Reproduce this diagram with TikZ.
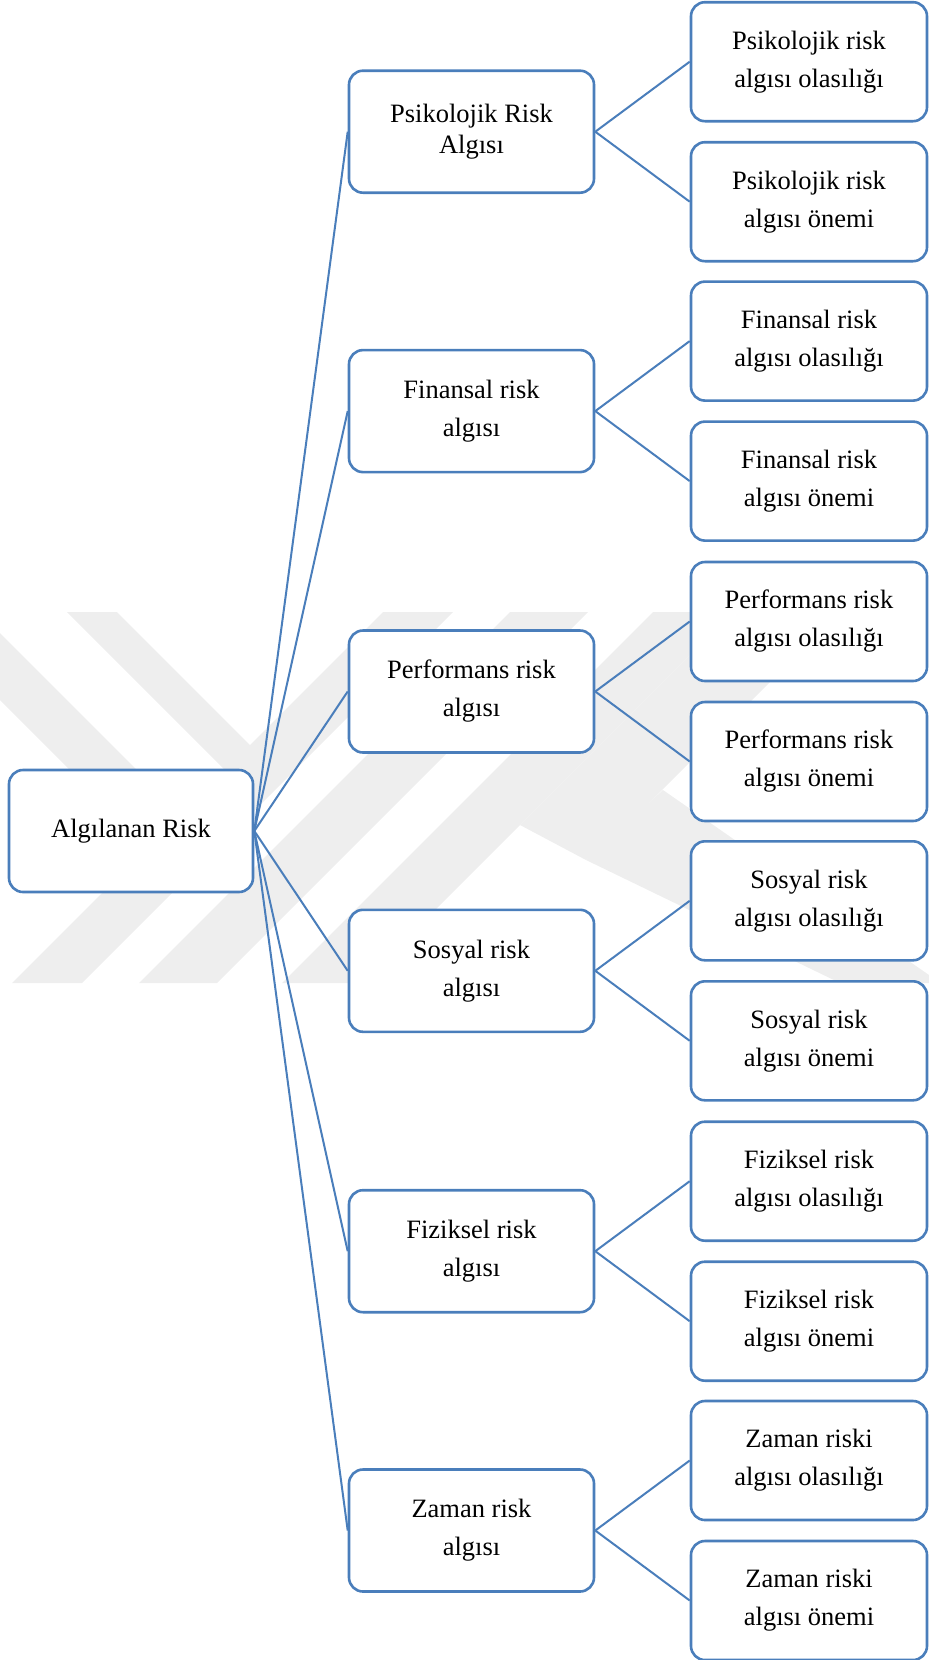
\documentclass[tikz,border=0pt]{standalone}
\usepackage{fontspec}
\setmainfont{Liberation Serif}
\definecolor{boxblue}{RGB}{74,126,187}
\definecolor{wm}{RGB}{238,238,238}
\begin{document}
\begin{tikzpicture}[x=1pt,y=-1pt,
  box/.style={draw=boxblue, line width=2.6pt, rounded corners=14pt, fill=white, align=center, inner sep=0pt, font=\fontsize{26.5}{38}\selectfont},
  rootbox/.style={box, minimum width=244pt, minimum height=122pt},
  midbox/.style={box, minimum width=245pt, minimum height=122pt},
  leafbox/.style={box, minimum width=236pt, minimum height=119pt},
  link/.style={draw=boxblue, line width=2pt}]
\useasboundingbox (0,0) rectangle (929,1660);
% faint watermark
\begin{scope}
\clip (0,612) rectangle (929,983);
\fill[wm] (67,612) -- (117,612) -- (255,750) -- (225,770) -- cycle;
\fill[wm] (0,633) -- (137,770) -- (70,770) -- (0,700) -- cycle;
\fill[wm] (383,612) -- (453,612) -- (82,983) -- (12,983) -- cycle;
\fill[wm] (510,612) -- (588,612) -- (217,983) -- (139,983) -- cycle;
\fill[wm] (653,612) -- (733,612) -- (362,983) -- (282,983) -- cycle;
\fill[wm] (733,612) -- (840,612) -- (620,832) -- (586,860) -- (520,825) -- cycle;
\fill[wm] (586,860) -- (663,790) -- (929,975) -- (929,983) -- (840,983) -- cycle;
\end{scope}
% root
\node[rootbox] (root) at (131,831) {Algılanan Risk};
% middle level
\node[midbox, font=\fontsize{26.5}{30.7}\selectfont] (m1) at (471.5,131.7) {Psikolojik Risk\\Algısı};
\node[midbox] (m2) at (471.5,411.1) {Finansal risk\\algısı};
\node[midbox] (m3) at (471.5,691.5) {Performans risk\\algısı};
\node[midbox] (m4) at (471.5,970.8) {Sosyal risk\\algısı};
\node[midbox] (m5) at (471.5,1251.2) {Fiziksel risk\\algısı};
\node[midbox] (m6) at (471.5,1530.5) {Zaman risk\\algısı};
% leaves
\node[leafbox] (l1a) at (809,61.7) {Psikolojik risk\\algısı olasılığı};
\node[leafbox] (l1b) at (809,201.7) {Psikolojik risk\\algısı önemi};
\node[leafbox] (l2a) at (809,341.1) {Finansal risk\\algısı olasılığı};
\node[leafbox] (l2b) at (809,481.1) {Finansal risk\\algısı önemi};
\node[leafbox] (l3a) at (809,621.5) {Performans risk\\algısı olasılığı};
\node[leafbox] (l3b) at (809,761.5) {Performans risk\\algısı önemi};
\node[leafbox] (l4a) at (809,900.8) {Sosyal risk\\algısı olasılığı};
\node[leafbox] (l4b) at (809,1040.8) {Sosyal risk\\algısı önemi};
\node[leafbox] (l5a) at (809,1181.2) {Fiziksel risk\\algısı olasılığı};
\node[leafbox] (l5b) at (809,1321.2) {Fiziksel risk\\algısı önemi};
\node[leafbox] (l6a) at (809,1460.5) {Zaman riski\\algısı olasılığı};
\node[leafbox] (l6b) at (809,1600.5) {Zaman riski\\algısı önemi};
% connectors
\foreach \i in {1,...,6}{
  \draw[link] (root.east) -- (m\i.west);
  \draw[link] (m\i.east) -- (l\i a.west);
  \draw[link] (m\i.east) -- (l\i b.west);
}
\end{tikzpicture}
\end{document}
